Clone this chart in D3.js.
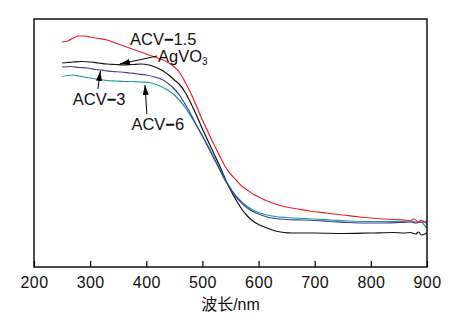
<!DOCTYPE html>
<html>
<head>
<meta charset="utf-8">
<script src="https://cdn.jsdelivr.net/npm/d3@7"></script>
<style>
  body { margin: 0; background: #fff; }
  text { font-family: "Liberation Sans", Arial, "Noto Sans CJK SC", sans-serif; }
</style>
</head>
<body>
<div id="chart"></div>
<script>
// wavelength (nm) and absorbance (a.u.)
const redWl  = [250,260,270,280,290,300,315,330,345,360,375,390,405,420,430,440,450,460,470,480,490,500,510,520,530,540,550,560,570,580,590,600,620,645,670,690,720,750,780,810,840,860,870,878,884,890,895,900];
const redAbs = [2.25,2.26,2.29,2.31,2.31,2.30,2.285,2.27,2.24,2.21,2.18,2.15,2.12,2.09,2.07,2.04,2.00,1.94,1.84,1.73,1.60,1.47,1.35,1.23,1.12,1.01,0.93,0.87,0.81,0.77,0.73,0.70,0.65,0.605,0.58,0.56,0.54,0.52,0.50,0.485,0.475,0.47,0.465,0.48,0.45,0.47,0.45,0.46];

const blackWl  = [250,260,270,285,300,315,330,345,360,375,390,405,420,430,440,450,460,470,480,490,500,510,520,530,540,550,560,570,580,590,600,615,630,645,660,700,750,800,840,860,870,880,885,890,900];
const blackAbs = [2.04,2.045,2.05,2.055,2.05,2.04,2.03,2.025,2.02,2.025,2.03,2.02,1.99,1.96,1.92,1.87,1.82,1.74,1.63,1.51,1.38,1.26,1.14,1.02,0.89,0.77,0.67,0.58,0.51,0.46,0.425,0.39,0.36,0.345,0.34,0.34,0.335,0.34,0.345,0.34,0.345,0.33,0.35,0.32,0.34];

const blueWl  = [250,265,280,295,310,325,340,355,370,385,400,415,430,440,450,460,470,480,490,500,510,520,530,540,550,560,570,580,590,600,615,630,650,680,700,730,760,790,820,850,870,880,890,900];
const blueAbs = [2.00,2.005,1.995,1.99,1.975,1.965,1.955,1.95,1.94,1.93,1.92,1.90,1.87,1.83,1.78,1.71,1.62,1.52,1.41,1.31,1.20,1.09,0.98,0.87,0.78,0.70,0.64,0.59,0.555,0.53,0.50,0.485,0.475,0.47,0.465,0.455,0.445,0.44,0.44,0.445,0.45,0.44,0.45,0.44];

const tealWl  = [250,260,270,280,290,300,315,330,345,360,375,390,405,420,435,450,460,470,480,490,500,510,520,530,540,550,560,570,580,590,600,615,630,650,680,700,730,760,790,820,850,870,880,890,895,900];
const tealAbs = [1.905,1.915,1.92,1.91,1.90,1.89,1.875,1.865,1.86,1.855,1.855,1.85,1.845,1.82,1.78,1.72,1.66,1.59,1.50,1.41,1.31,1.21,1.10,0.99,0.88,0.79,0.71,0.65,0.605,0.57,0.545,0.52,0.505,0.495,0.485,0.48,0.47,0.46,0.455,0.455,0.455,0.46,0.45,0.45,0.42,0.39];

const xTicks = [200,300,400,500,600,700,800,900];

const width = 452, height = 322;
const margin = {top: 19, right: 25, bottom: 55, left: 34};

const svg = d3.select("#chart")
    .append("svg")
    .attr("width", width)
    .attr("height", height);

const xScale = d3.scaleLinear()
    .domain([200, 900])
    .range([margin.left, width - margin.right]);

const yScale = d3.scaleLinear()
    .domain([0, 2.48])
    .range([height - margin.bottom, margin.top]);

// arrow head
svg.append("defs").append("marker")
    .attr("id", "arrow")
    .attr("markerUnits", "userSpaceOnUse")
    .attr("viewBox", "0 0 10 6")
    .attr("refX", 10).attr("refY", 3)
    .attr("markerWidth", 10).attr("markerHeight", 6)
    .attr("orient", "auto")
  .append("path")
    .attr("d", "M0,0 L10,3 L0,6 Z")
    .attr("fill", "#000");

// lines
const line = d3.line()
    .x(function(d) { return xScale(d[0]); })
    .y(function(d) { return yScale(d[1]); })
    .curve(d3.curveMonotoneX);

const series = [
  {wl: blackWl, abs: blackAbs, color: "#111111"},
  {wl: tealWl,  abs: tealAbs,  color: "#1a9b98"},
  {wl: blueWl,  abs: blueAbs,  color: "#3c3f9c"},
  {wl: redWl,   abs: redAbs,   color: "#ee2128"}
];

series.forEach(function(s) {
  svg.append("path")
      .datum(d3.zip(s.wl, s.abs))
      .attr("d", line)
      .style("fill", "none")
      .style("stroke", s.color)
      .style("stroke-width", 1.2);
});

// frame
svg.append("rect")
    .attr("x", xScale(200))
    .attr("y", yScale(2.48))
    .attr("width", xScale(900) - xScale(200))
    .attr("height", yScale(0) - yScale(2.48))
    .style("fill", "none")
    .style("stroke", "#000")
    .style("stroke-width", 1.4);

// x axis, ticks pointing inward
const xAxis = svg.append("g")
    .attr("transform", `translate(0,${height - margin.bottom})`)
    .call(d3.axisBottom(xScale)
        .tickValues(xTicks)
        .tickSizeInner(-6)
        .tickSizeOuter(0)
        .tickPadding(10)
        .tickFormat(d3.format("d")));
xAxis.select(".domain").remove();
xAxis.selectAll("line").attr("stroke", "#000").attr("stroke-width", 1.2);
xAxis.selectAll("text")
    .attr("font-size", "16px")
    .attr("letter-spacing", "0.4px")
    .attr("font-family", "'Liberation Sans', Arial, sans-serif")
    .attr("fill", "#111");

// axis label
svg.append("text")
    .attr("x", (xScale(200) + xScale(900)) / 2)
    .attr("y", 310)
    .attr("text-anchor", "middle")
    .attr("font-size", "16px")
    .attr("fill", "#111")
    .text("波长/nm");

// labels and arrows
const labels = [
  {pre: "ACV", post: "1.5", x: 371, y: 2.22},
  {pre: "AgVO", sub: "3", x: 421, y: 2.05},
  {pre: "ACV", post: "3", x: 269, y: 1.62},
  {pre: "ACV", post: "6", x: 373.5, y: 1.37}
];

labels.forEach(function(l) {
  const t = svg.append("text")
      .attr("x", xScale(l.x))
      .attr("y", yScale(l.y))
      .attr("font-size", "16.5px")
      .attr("fill", "#111");
  t.append("tspan").text(l.pre);
  if (l.post) {
    t.append("tspan").attr("font-weight", "bold").text("−");
    t.append("tspan").text(l.post);
  }
  if (l.sub) {
    t.append("tspan")
      .attr("font-size", "10px")
      .attr("dy", "3")
      .text(l.sub);
  }
});

const arrows = [
  {x1: 419.4, y1: 2.11, x2: 353,   y2: 2.03},
  {x1: 313.8, y1: 1.78, x2: 318.2, y2: 1.96},
  {x1: 401,   y1: 1.53, x2: 397.7, y2: 1.82}
];

svg.selectAll(".arrow")
    .data(arrows)
    .enter().append("line")
    .attr("class", "arrow")
    .attr("x1", function(d) { return xScale(d.x1); })
    .attr("y1", function(d) { return yScale(d.y1); })
    .attr("x2", function(d) { return xScale(d.x2); })
    .attr("y2", function(d) { return yScale(d.y2); })
    .attr("stroke", "#000")
    .attr("stroke-width", 1)
    .attr("marker-end", "url(#arrow)");
</script>
</body>
</html>
